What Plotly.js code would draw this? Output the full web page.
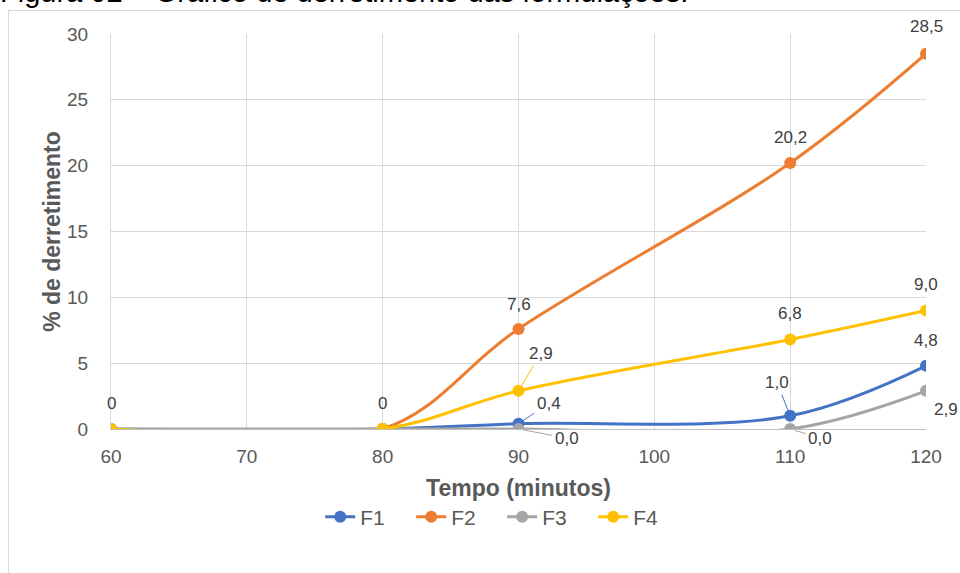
<!DOCTYPE html>
<html>
<head>
<meta charset="utf-8">
<script src="https://cdn.plot.ly/plotly-3.0.1.min.js"></script>
<style>
  html, body { margin:0; padding:0; width:960px; height:573px; overflow:hidden; background:#fff; }
  #chart { position:absolute; left:0; top:0; width:960px; height:573px; }
  #frame { position:absolute; left:8px; top:10px; width:980px; height:600px; border:1px solid #d9d9d9; pointer-events:none; }
  #caption { position:absolute; left:0px; top:-22px; font-family:"Liberation Sans", Arial, sans-serif; font-size:29px; line-height:29px; color:#000; white-space:nowrap; }
</style>
</head>
<body>
<div id="caption">Figura 02 – Gráfico de derretimento das formulações.</div>
<div id="chart"></div>
<div id="frame"></div>
<script>
// ---- data ----
const tempo = [60, 80, 90, 110, 120];
const seriesNames = ["F1", "F2", "F3", "F4"];
const F1 = [0, 0, 0.4, 1.0, 4.8];
const F2 = [0, 0, 7.6, 20.2, 28.5];
const F3 = [0, 0, 0.0, 0.0, 2.9];
const F4 = [0, 0, 2.9, 6.8, 9.0];
const xTicks = [60, 70, 80, 90, 100, 110, 120];
const yTicks = [0, 5, 10, 15, 20, 25, 30];

// ---- styles ----
const colors = ["#4472C4", "#ED7D31", "#A5A5A5", "#FFC000"];
const allSeries = [F1, F2, F3, F4];
const labelFont = {family: "Liberation Sans, Arial, sans-serif", size: 17, color: "#404040"};

const traces = allSeries.map((ys, i) => ({
  x: tempo, y: ys, name: seriesNames[i], type: "scatter", mode: "lines+markers",
  line: {color: colors[i], width: 3, shape: "spline", smoothing: 1},
  marker: {color: colors[i], size: 12},
  hoverinfo: "skip"
}));

function fmt(v) { return v.toFixed(1).replace(".", ","); }

// label placement per series and point index: [ax, ay, leader]
const placement = {
  0: {2: [30, -20, true], 3: [-13, -33, true], 4: [0, -25, false]},
  1: {2: [0, -24, false], 3: [0, -26, false], 4: [0, -27, false]},
  2: {2: [48, 9, true], 3: [30, 9, true], 4: [20, 19, false]},
  3: {2: [22, -37, true], 3: [0, -26, false], 4: [0, -26, false]}
};

const annotations = [];
// the "0" labels at the first two points
[0, 1].forEach(j => {
  annotations.push({x: tempo[j], y: F4[j], xref: "x", yref: "y", text: String(F4[j]),
    showarrow: false, yshift: 26, font: labelFont});
});
allSeries.forEach((ys, i) => {
  [2, 3, 4].forEach(j => {
    const p = placement[i][j];
    const a = {x: tempo[j], y: ys[j], xref: "x", yref: "y", text: fmt(ys[j]), font: labelFont};
    if (p[2]) {
      Object.assign(a, {showarrow: true, ax: p[0], ay: p[1], arrowhead: 0, arrowwidth: 1,
        arrowcolor: colors[i], standoff: 5, startstandoff: 1});
    } else {
      Object.assign(a, {showarrow: false, xshift: p[0], yshift: -p[1]});
    }
    annotations.push(a);
  });
});

const tickFont = {family: "Liberation Sans, Arial, sans-serif", size: 19, color: "#595959"};
const titleFont = {family: "Liberation Sans, Arial, sans-serif", size: 23, color: "#595959", weight: "bold"};

const layout = {
  width: 960, height: 573,
  margin: {l: 111, r: 34, t: 34, b: 144},
  paper_bgcolor: "rgba(0,0,0,0)", plot_bgcolor: "#fff",
  showlegend: true,
  xaxis: {
    range: [60, 120], tickvals: xTicks, ticktext: xTicks.map(String), automargin: false,
    showgrid: true, gridcolor: "#d9d9d9", gridwidth: 1,
    showline: true, linecolor: "#bfbfbf", linewidth: 1, mirror: false,
    zeroline: false, ticks: "", ticklabelstandoff: 10, tickfont: tickFont,
    title: {text: "Tempo (minutos)", font: titleFont, standoff: 14}
  },
  yaxis: {
    range: [0, 30], tickvals: yTicks, ticktext: yTicks.map(String), automargin: false,
    showgrid: true, gridcolor: "#d9d9d9", gridwidth: 1,
    showline: true, linecolor: "#d9d9d9", linewidth: 1,
    zeroline: false, ticks: "", ticklabelstandoff: 18, tickfont: tickFont,
    title: {text: "% de derretimento", font: titleFont, standoff: 0}
  },
  legend: {
    orientation: "h", x: 0.48, xanchor: "center",
    y: -0.223, yanchor: "middle",
    entrywidth: 46, entrywidthmode: "pixels",
    font: {family: "Liberation Sans, Arial, sans-serif", size: 21, color: "#595959"},
    bgcolor: "rgba(0,0,0,0)"
  },
  annotations: annotations
};

Plotly.newPlot("chart", traces, layout, {displayModeBar: false, staticPlot: true});
</script>
</body>
</html>
